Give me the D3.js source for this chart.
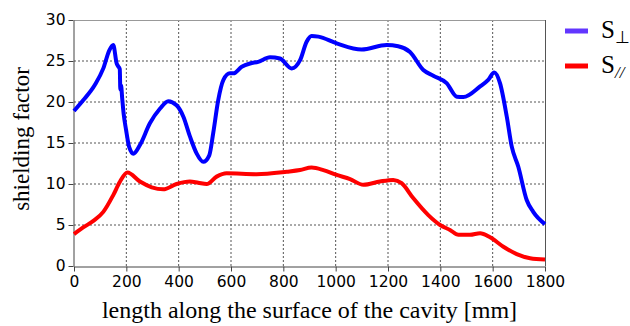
<!DOCTYPE html>
<html><head><meta charset="utf-8">
<script src="https://cdn.jsdelivr.net/npm/d3@7/dist/d3.min.js"></script>
<style>body{margin:0;background:#fff}svg{display:block}</style>
</head><body>
<svg id="c" width="630" height="326"></svg>
<script>
const xTicks = [0,200,400,600,800,1000,1200,1400,1600,1800];
const yTicks = [0,5,10,15,20,25,30];
const perpX = [0,35,80,112,135,150,163,170,175,177,180,184,190,199,211,227,252,290,329,360,392,418,443,469,494,517,532,551,571,596,609,641,673,704,749,787,832,864,889,908,934,1004,1099,1195,1239,1284,1335,1373,1424,1463,1488,1552,1583,1606,1628,1654,1673,1698,1730,1755,1800];
const perpY = [18.9,20.2,22.1,24.1,26.3,26.95,24.7,24.3,24.0,21.5,22.0,20.5,18.5,16.6,14.5,13.7,14.75,17.4,19.2,20.1,19.6,18.2,15.8,13.7,12.7,13.5,16.2,20.2,22.7,23.5,23.5,24.3,24.7,24.9,25.45,25.3,24.1,25.1,27.35,28.05,27.97,27.15,26.4,26.95,26.8,26.1,23.9,23.2,22.3,20.65,20.6,21.9,22.7,23.6,22.3,18.2,14.55,12.1,8.05,6.6,5.1];
const parX = [0,35,74,112,150,176,204,252,297,341,392,443,475,507,545,583,698,813,864,908,953,1004,1055,1106,1169,1220,1252,1297,1354,1399,1437,1469,1513,1552,1590,1641,1692,1743,1800];
const parY = [3.9,4.7,5.5,6.6,8.65,10.3,11.4,10.3,9.6,9.35,10.0,10.3,10.15,10.0,10.9,11.3,11.2,11.5,11.7,12.0,11.7,11.1,10.6,9.9,10.3,10.5,10.1,8.25,6.2,5.0,4.4,3.8,3.8,4.0,3.5,2.35,1.45,0.95,0.8];
const seriesNames = ["S", "S"];
const seriesSubs = ["⊥", "//"];

const svg = d3.select("#c");
const L = 74, R = 545, T = 20, B = 266;
const x = d3.scaleLinear().domain([0,1800]).range([L,R]);
const y = d3.scaleLinear().domain([0,30]).range([B,T]);

// grid
const g = svg.append("g");
g.selectAll(".vg").data(xTicks.filter(d=>d>0&&d<1800)).join("line")
  .attr("x1",d=>x(d)).attr("x2",d=>x(d)).attr("y1",T).attr("y2",B)
  .attr("stroke","#555").attr("stroke-width",1).attr("stroke-dasharray","2,2");
g.selectAll(".hg").data(yTicks.filter(d=>d>0&&d<30)).join("line")
  .attr("x1",L).attr("x2",R).attr("y1",d=>y(d)).attr("y2",d=>y(d))
  .attr("stroke","#555").attr("stroke-width",1).attr("stroke-dasharray","2,2");
// frame top/right
svg.append("line").attr("x1",L).attr("x2",R).attr("y1",T+0.5).attr("y2",T+0.5).attr("stroke","#999");
svg.append("line").attr("x1",R+0.5).attr("x2",R+0.5).attr("y1",T).attr("y2",B).attr("stroke","#555");

const tickFont = "'DejaVu Sans', sans-serif";
const fmt = d3.format("d");
const xa = svg.append("g").attr("transform",`translate(0,${B+0.5})`)
  .call(d3.axisBottom(x).tickValues(xTicks).tickFormat(fmt).tickSize(5).tickSizeOuter(0).tickPadding(4));
xa.selectAll("text").attr("font-family",tickFont).attr("font-size",15.5).attr("fill","#000");
const ya = svg.append("g").attr("transform",`translate(${L-0.5},0)`)
  .call(d3.axisLeft(y).tickValues(yTicks).tickFormat(fmt).tickSize(5).tickSizeOuter(0).tickPadding(3));
ya.selectAll("text").attr("font-family",tickFont).attr("font-size",15.5).attr("fill","#000");
svg.selectAll(".domain").attr("stroke","#444");
svg.selectAll(".tick line").attr("stroke","#444");

// lines
const line = d3.line().x(d=>x(d[0])).y(d=>y(d[1])).curve(d3.curveMonotoneX);
const perp = perpX.map((v,i)=>[v,perpY[i]]);
const par = parX.map((v,i)=>[v,parY[i]]);
svg.append("path").attr("d",line(par)).attr("fill","none").attr("stroke","#ff0000").attr("stroke-width",4).attr("stroke-linejoin","round");
svg.append("path").attr("d",line(perp)).attr("fill","none").attr("stroke","#0000ff").attr("stroke-width",4).attr("stroke-linejoin","round");

// axis labels
const serif = "'Liberation Serif', 'Times New Roman', serif";
svg.append("text").attr("x",(L+R)/2).attr("y",318).attr("text-anchor","middle")
  .attr("font-family",serif).attr("font-size",24).text("length along the surface of the cavity [mm]");
svg.append("text").attr("transform",`translate(29,${(T+B)/2-4}) rotate(-90)`).attr("text-anchor","middle")
  .attr("font-family",serif).attr("font-size",23).text("shielding factor");

// legend
const legColors = ["#6236ff","#ff0000"];
const leg = svg.append("g");
seriesNames.forEach((n,i)=>{
  const yy = 31 + i*35;
  leg.append("line").attr("x1",565).attr("x2",588).attr("y1",yy).attr("y2",yy)
    .attr("stroke",legColors[i]).attr("stroke-width",5);
  const t = leg.append("text").attr("x",601).attr("y",yy+7).attr("font-family",serif).attr("font-size",25);
  t.append("tspan").text(n);
  t.append("tspan").attr("dy",5).attr("font-size",17).attr("font-style", i===1?"italic":"normal").text(seriesSubs[i]);
});
</script>
</body></html>
